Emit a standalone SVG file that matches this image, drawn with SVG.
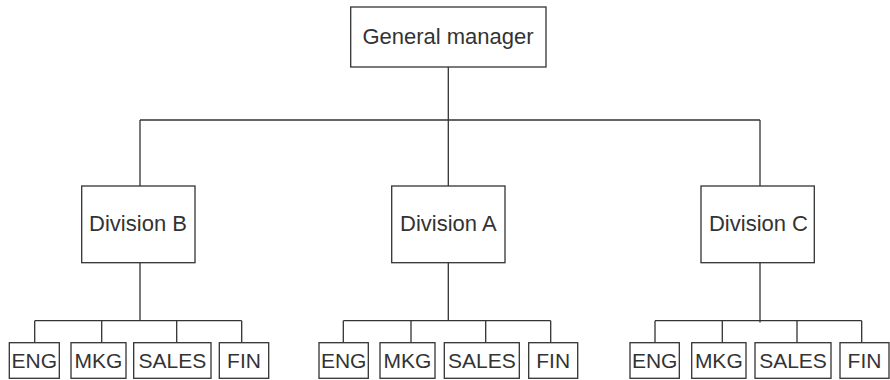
<svg xmlns="http://www.w3.org/2000/svg" width="890" height="380" viewBox="0 0 890 380">
  <style>
    .box { fill: #ffffff; stroke: #333333; stroke-width: 1.3; }
    .wire { fill: none; stroke: #333333; stroke-width: 1.3; }
    text { font-family: "Liberation Sans", Arial, sans-serif; fill: #333333; text-anchor: middle; }
    .big { font-size: 22px; }
    .small { font-size: 21px; }
  </style>
  <rect width="890" height="380" fill="#ffffff"/>

  <!-- connectors -->
  <g id="connectors" class="wire">
    <!-- general manager to divisions -->
    <path d="M448.3 67 V120 M140 120 H760 M140 120 V186 M448.3 120 V186 M760 120 V186"/>
    <!-- Division B to departments -->
    <path d="M140 262.7 V320.7 M34.7 320.7 H241.7 M34.7 320.7 V342.7 M101.7 320.7 V342.7 M176.7 320.7 V342.7 M241.7 320.7 V342.7"/>
    <!-- Division A to departments -->
    <path d="M448.3 262.7 V320.7 M343.3 320.7 H550.7 M343.3 320.7 V342.7 M411 320.7 V342.7 M485.7 320.7 V342.7 M550.7 320.7 V342.7"/>
    <!-- Division C to departments -->
    <path d="M760 262.7 V322.5 M655 320.7 H861.7 M655 320.7 V342.7 M722.3 320.7 V342.7 M797 320.7 V342.7 M861.7 320.7 V342.7"/>
  </g>

  <g id="general-manager">
    <rect class="box" x="350.7" y="7" width="195.3" height="60"/>
    <text class="big" x="448" y="44">General manager</text>
  </g>

  <g id="division-b">
    <rect class="box" x="81.7" y="186" width="113.3" height="76.7"/>
    <text class="big" x="138" y="231">Division B</text>
  </g>
  <g id="division-a">
    <rect class="box" x="391.7" y="186" width="113.3" height="76.7"/>
    <text class="big" x="448.3" y="231">Division A</text>
  </g>
  <g id="division-c">
    <rect class="box" x="701" y="186" width="113.3" height="76.7"/>
    <text class="big" x="758.5" y="231">Division C</text>
  </g>

  <!-- Division B departments -->
  <g id="b-eng">
    <rect class="box" x="9.3" y="342.7" width="50" height="35.6"/>
    <text class="small" x="34.3" y="368.3">ENG</text>
  </g>
  <g id="b-mkg">
    <rect class="box" x="71" y="342.7" width="55" height="35.6"/>
    <text class="small" x="98.5" y="368.3">MKG</text>
  </g>
  <g id="b-sales">
    <rect class="box" x="133.7" y="342.7" width="77.3" height="35.6"/>
    <text class="small" x="172.3" y="368.3">SALES</text>
  </g>
  <g id="b-fin">
    <rect class="box" x="219.3" y="342.7" width="49.4" height="35.6"/>
    <text class="small" x="244" y="368.3">FIN</text>
  </g>

  <!-- Division A departments -->
  <g id="a-eng">
    <rect class="box" x="319" y="342.7" width="49.3" height="35.6"/>
    <text class="small" x="343.7" y="368.3">ENG</text>
  </g>
  <g id="a-mkg">
    <rect class="box" x="380" y="342.7" width="55" height="35.6"/>
    <text class="small" x="407.5" y="368.3">MKG</text>
  </g>
  <g id="a-sales">
    <rect class="box" x="444.3" y="342.7" width="75" height="35.6"/>
    <text class="small" x="481.8" y="368.3">SALES</text>
  </g>
  <g id="a-fin">
    <rect class="box" x="528.7" y="342.7" width="49" height="35.6"/>
    <text class="small" x="553.2" y="368.3">FIN</text>
  </g>

  <!-- Division C departments -->
  <g id="c-eng">
    <rect class="box" x="630" y="342.7" width="49.3" height="35.6"/>
    <text class="small" x="654.7" y="368.3">ENG</text>
  </g>
  <g id="c-mkg">
    <rect class="box" x="691.7" y="342.7" width="54.3" height="35.6"/>
    <text class="small" x="718.8" y="368.3">MKG</text>
  </g>
  <g id="c-sales">
    <rect class="box" x="755" y="342.7" width="76" height="35.6"/>
    <text class="small" x="793" y="368.3">SALES</text>
  </g>
  <g id="c-fin">
    <rect class="box" x="840" y="342.7" width="49" height="35.6"/>
    <text class="small" x="864.5" y="368.3">FIN</text>
  </g>
</svg>
